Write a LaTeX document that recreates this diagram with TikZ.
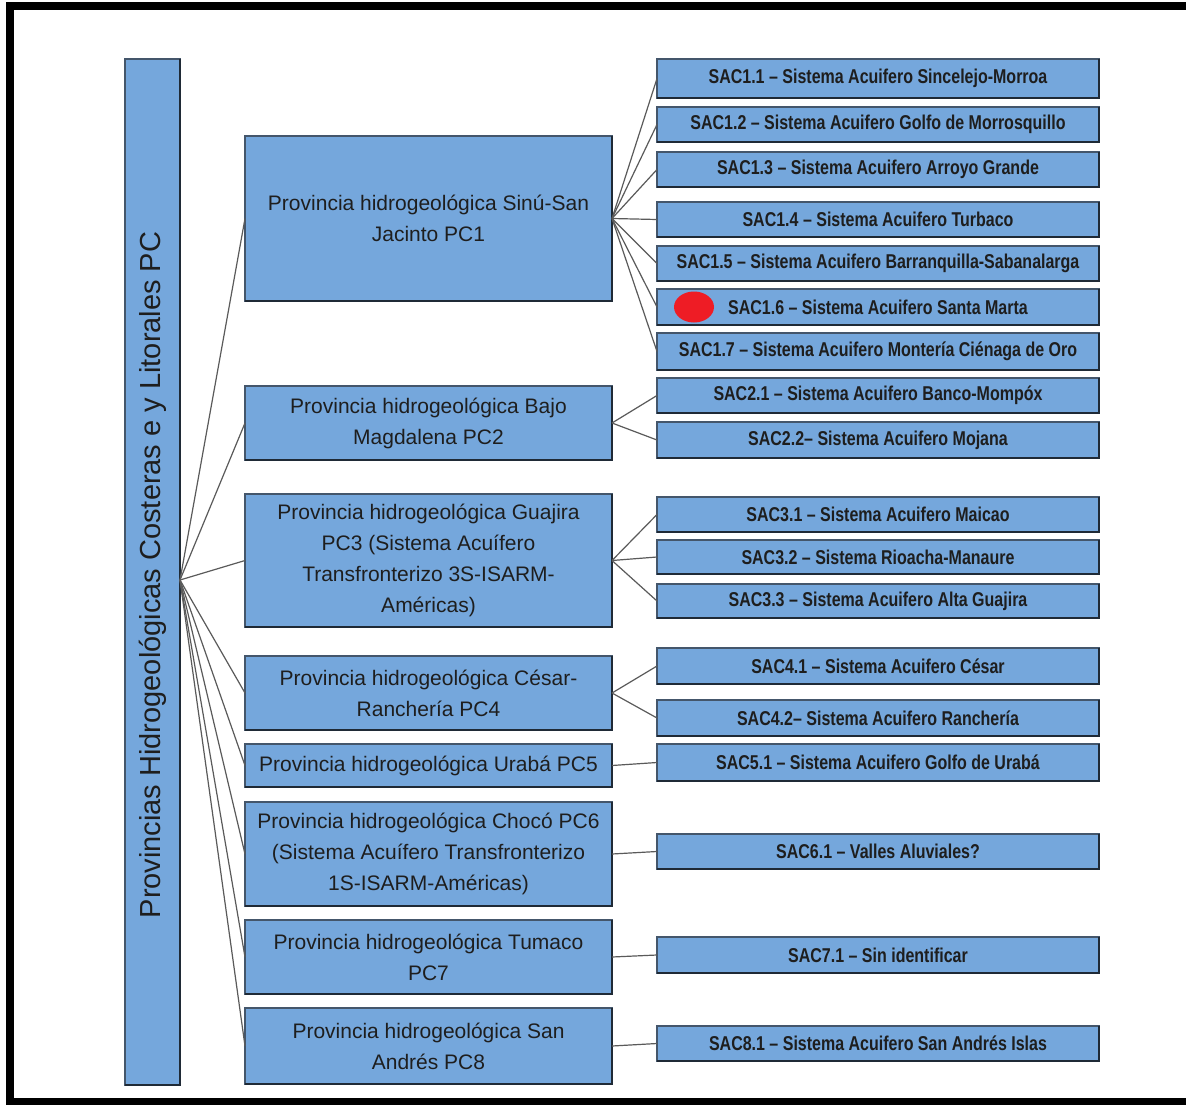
\documentclass[tikz,border=0pt]{standalone}
\usepackage{fontspec}
\setmainfont{Liberation Sans}
\newfontfamily\sacfont[FakeStretch=0.8]{Liberation Sans}

\definecolor{boxfill}{HTML}{75A7DC}
\definecolor{boxline}{HTML}{44566B}
\definecolor{boxshade}{HTML}{1F2A36}
\definecolor{linkgray}{HTML}{5A5A5A}
\definecolor{txt}{HTML}{1E1E1E}
\definecolor{marker}{HTML}{EE1C25}

\begin{document}
\begin{tikzpicture}[x=1pt,y=-1pt,
  box/.style={draw=boxline, line width=1.5pt, fill=boxfill, inner sep=0pt,
    outer sep=0pt, text=txt, align=center},
  pcbox/.style={box, minimum width=367pt, font=\fontsize{21}{31}\selectfont},
  sacbox/.style={box, minimum width=442pt, font=\sacfont\bfseries\fontsize{20}{24}\selectfont},
  link/.style={draw=linkgray, line width=1.2pt}]

\path[use as bounding box, fill=white] (0,0) rectangle (1186,1105);

% outer frame, open on the right
\draw[line width=8pt, line join=miter, line cap=butt] (1186,6.5) -- (10,6.5) -- (10,1101.5) -- (1186,1101.5);

% root column
\node[box, minimum width=55pt, minimum height=1026pt] (root) at (152.5,572) {};
\node[rotate=90, text=txt, font=\fontsize{29}{34}\selectfont] (roottitle) at (153,575)
  {Provincias Hidrogeológicas Costeras e y Litorales PC};
\coordinate (hub) at (180,580);

% provinces
\node[pcbox, minimum height=165pt] (pc1) at (428.5,218.5) {Provincia hidrogeológica Sinú-San\\Jacinto PC1};
\node[pcbox, minimum height=74pt]  (pc2) at (428.5,423)   {Provincia hidrogeológica Bajo\\Magdalena PC2};
\node[pcbox, minimum height=133pt] (pc3) at (428.5,560.5) {Provincia hidrogeológica Guajira\\PC3 (Sistema Acuífero\\Transfronterizo 3S-ISARM-\\Américas)};
\node[pcbox, minimum height=74pt]  (pc4) at (428.5,693)   {Provincia hidrogeológica César-\\Ranchería PC4};
\node[pcbox, minimum height=43pt]  (pc5) at (428.5,765.5) {Provincia hidrogeológica Urabá PC5};
\node[pcbox, minimum height=104pt] (pc6) at (428.5,854)   {Provincia hidrogeológica Chocó PC6\\(Sistema Acuífero Transfronterizo\\1S-ISARM-Américas)};
\node[pcbox, minimum height=74pt]  (pc7) at (428.5,957)   {Provincia hidrogeológica Tumaco\\PC7};
\node[pcbox, minimum height=76pt]  (pc8) at (428.5,1046)  {Provincia hidrogeológica San\\Andrés PC8};

% aquifer systems
\node[sacbox, minimum height=39pt] (s11) at (878,78.5)  {SAC1.1 – Sistema Acuifero Sincelejo-Morroa};
\node[sacbox, minimum height=35pt] (s12) at (878,124.5) {SAC1.2 – Sistema Acuifero Golfo de Morrosquillo};
\node[sacbox, minimum height=35pt] (s13) at (878,169.5) {SAC1.3 – Sistema Acuifero Arroyo Grande};
\node[sacbox, minimum height=35pt] (s14) at (878,219.5) {SAC1.4 – Sistema Acuifero Turbaco};
\node[sacbox, minimum height=35pt] (s15) at (878,263.5) {SAC1.5 – Sistema Acuifero Barranquilla-Sabanalarga};
\node[sacbox, minimum height=36pt] (s16) at (878,307)   {SAC1.6 – Sistema Acuifero Santa Marta};
\node[sacbox, minimum height=37pt] (s17) at (878,351.5) {SAC1.7 – Sistema Acuifero Montería Ciénaga de Oro};
\node[sacbox, minimum height=35pt] (s21) at (878,395.5) {SAC2.1 – Sistema Acuifero Banco-Mompóx};
\node[sacbox, minimum height=36pt] (s22) at (878,440)   {SAC2.2– Sistema Acuifero Mojana};
\node[sacbox, minimum height=35pt] (s31) at (878,514.5) {SAC3.1 – Sistema Acuifero Maicao};
\node[sacbox, minimum height=34pt] (s32) at (878,557)   {SAC3.2 – Sistema Rioacha-Manaure};
\node[sacbox, minimum height=34pt] (s33) at (878,601)   {SAC3.3 – Sistema Acuifero Alta Guajira};
\node[sacbox, minimum height=36pt] (s41) at (878,666)   {SAC4.1 – Sistema Acuifero César};
\node[sacbox, minimum height=36pt] (s42) at (878,718)   {SAC4.2– Sistema Acuifero Ranchería};
\node[sacbox, minimum height=37pt] (s51) at (878,762.5) {SAC5.1 – Sistema Acuifero Golfo de Urabá};
\node[sacbox, minimum height=35pt] (s61) at (878,851.5) {SAC6.1 – Valles Aluviales?};
\node[sacbox, minimum height=36pt] (s71) at (878,955)   {SAC7.1 – Sin identificar};
\node[sacbox, minimum height=35pt] (s81) at (878,1043.5){SAC8.1 – Sistema Acuifero San Andrés Islas};

% darker right and bottom edges
\foreach \n in {root,pc1,pc2,pc3,pc4,pc5,pc6,pc7,pc8,s11,s12,s13,s14,s15,s16,s17,s21,s22,s31,s32,s33,s41,s42,s51,s61,s71,s81}
  \draw[boxshade, line width=2pt] (\n.north east) -- (\n.south east) -- (\n.south west);

% marker on SAC1.6
\fill[marker] (694,307) ellipse [x radius=20, y radius=15.5];

% connectors: root to provinces
\foreach \p in {pc1,pc2,pc3,pc4,pc5,pc6,pc7,pc8}
  \draw[link] (hub) -- (\p.west);

% connectors: provinces to aquifer systems
\foreach \s in {s11,s12,s13,s14,s15,s16,s17} \draw[link] (pc1.east) -- (\s.west);
\foreach \s in {s21,s22} \draw[link] (pc2.east) -- (\s.west);
\foreach \s in {s31,s32,s33} \draw[link] (pc3.east) -- (\s.west);
\foreach \s in {s41,s42} \draw[link] (pc4.east) -- (\s.west);
\draw[link] (pc5.east) -- (s51.west);
\draw[link] (pc6.east) -- (s61.west);
\draw[link] (pc7.east) -- (s71.west);
\draw[link] (pc8.east) -- (s81.west);

\end{tikzpicture}
\end{document}
